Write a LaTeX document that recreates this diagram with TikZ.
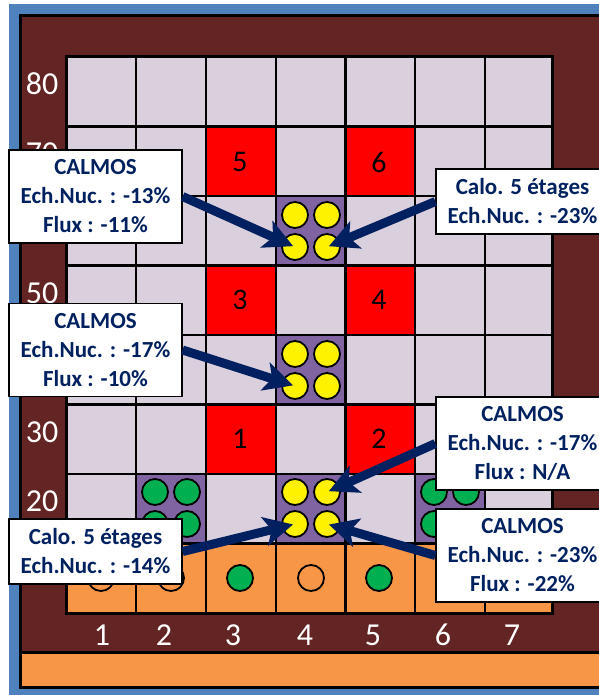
\documentclass[tikz,border=0pt]{standalone}
\usepackage{fontspec}
\setmainfont{Carlito}
\usepackage{xcolor}
\usetikzlibrary{arrows.meta}
\definecolor{coreblue}{HTML}{4F81BD}
\definecolor{maroon}{HTML}{632523}
\definecolor{cellgrey}{HTML}{DACFDC}
\definecolor{reflector}{HTML}{F79646}
\definecolor{navy}{HTML}{002060}
\definecolor{purplecell}{HTML}{8064A2}
\definecolor{pingreen}{HTML}{00B050}

\tikzset{
    pin/.style={circle, draw=black, line width=1.8pt, inner sep=0pt, minimum size=26pt},
    scale label/.style={text=white, font=\fontsize{32}{32}\selectfont, inner sep=0pt},
    rod label/.style={text=black, font=\fontsize{30}{30}\selectfont, inner sep=0pt},
    result/.style={draw=black, line width=1.2pt, fill=white, text=navy, align=center, inner sep=0pt,
        font=\fontsize{23}{29}\selectfont\bfseries, minimum width=173pt},
    flux arrow/.style={navy, line width=9pt, shorten >=2pt,
        -{Stealth[length=29pt, width=29pt, inset=7pt]}}
}

\begin{document}
\begin{tikzpicture}[x=1pt, y=-1pt]
    \useasboundingbox (0,0) rectangle (598,695);

    % 1. Outer frame and bottom band
    \fill[coreblue] (9,4) rectangle (620,710);
    \draw[line width=3pt, fill=maroon] (20,16) rectangle (620,652);
    \draw[line width=3pt, fill=reflector] (20,652) rectangle (620,687);

    % 2. Core grid
    \fill[cellgrey] (66,57) rectangle (552,544);
    \fill[reflector] (66,544) rectangle (552,613);
    \foreach \col/\row in {3/1, 5/1, 3/3, 5/3, 3/5, 5/5}
        \fill[red] (66.5+69.75*\col-69.75,127+69.5*\row-69.5) rectangle ++(69.75,69.5);
    \foreach \col/\row in {4/2, 4/4, 2/6, 4/6, 6/6}
        \fill[purplecell] (66.5+69.75*\col-69.75,127+69.5*\row-69.5) rectangle ++(69.75,69.5);
    \foreach \i in {1,...,6}
        \draw[line width=2.2pt] (66.5+69.75*\i,57) -- (66.5+69.75*\i,613);
    \foreach \i in {1,...,7}
        \draw[line width=2.2pt] (66,57+69.5*\i) -- (552,57+69.5*\i);
    \draw[line width=3pt] (66,57) rectangle (552,613);

    % 3. Scale labels
    \foreach \val/\ypos in {80/84, 70/153, 50/293, 30/432, 20/501}
        \node[scale label] (y\val) at (42,\ypos) {\val};
    \foreach \val/\xpos in {1/102, 2/164, 3/233, 4/305, 5/373, 6/443, 7/512}
        \node[scale label] (x\val) at (\xpos,635) {\val};

    % 4. Red cell numbers
    \foreach \val/\xpos/\ypos in {5/240/162, 6/379/162, 3/240/300, 4/379/300, 1/240/439, 2/379/439}
        \node[rod label] (rod\val) at (\xpos,\ypos) {\val};

    % 5. Pins in the purple cells
    \foreach \name/\xpos/\ypos/\tint in {a/311/231/yellow, b/311/370/yellow, c/311/508/yellow, d/171/508/pingreen, e/450/508/pingreen} {
        \node[pin, fill=\tint] (\name1) at (\xpos-16,\ypos-16) {};
        \node[pin, fill=\tint] (\name2) at (\xpos+16,\ypos-16) {};
        \node[pin, fill=\tint] (\name3) at (\xpos-16,\ypos+16) {};
        \node[pin, fill=\tint] (\name4) at (\xpos+16,\ypos+16) {};
    }

    % 6. Pins in the orange row
    \foreach \name/\xpos/\tint in {f/101/reflector, g/171/reflector, h/240/pingreen, i/311/reflector, j/379/pingreen, k/450/reflector}
        \node[pin, fill=\tint] (\name) at (\xpos,578) {};

    % 7. Result boxes
    \node[result, minimum height=93pt] (boxa) at (95.5,196.5) {CALMOS\\Ech.Nuc. : -13\%\\Flux : -11\%};
    \node[result, minimum height=93pt] (boxb) at (95.5,350) {CALMOS\\Ech.Nuc. : -17\%\\Flux : -10\%};
    \node[result, minimum height=65pt] (boxc) at (95.5,551.5) {Calo. 5 étages\\Ech.Nuc. : -14\%};
    \node[result, minimum height=65pt] (boxd) at (522.5,201.5) {Calo. 5 étages\\Ech.Nuc. : -23\%};
    \node[result, minimum height=93pt] (boxe) at (522.5,443.5) {CALMOS\\Ech.Nuc. : -17\%\\Flux : N/A};
    \node[result, minimum height=93pt] (boxf) at (522.5,555.5) {CALMOS\\Ech.Nuc. : -23\%\\Flux : -22\%};

    % 8. Arrows from the boxes to the pins
    \draw[flux arrow] (boxa.east) -- (a3.center);
    \draw[flux arrow] (boxb.east) -- (b3.center);
    \draw[flux arrow] (boxc.east) -- (c3.center);
    \draw[flux arrow] (boxd.west) -- (a4.center);
    \draw[flux arrow] (boxe.west) -- (c2.center);
    \draw[flux arrow] (boxf.west) -- (c4.center);

\end{tikzpicture}
\end{document}
